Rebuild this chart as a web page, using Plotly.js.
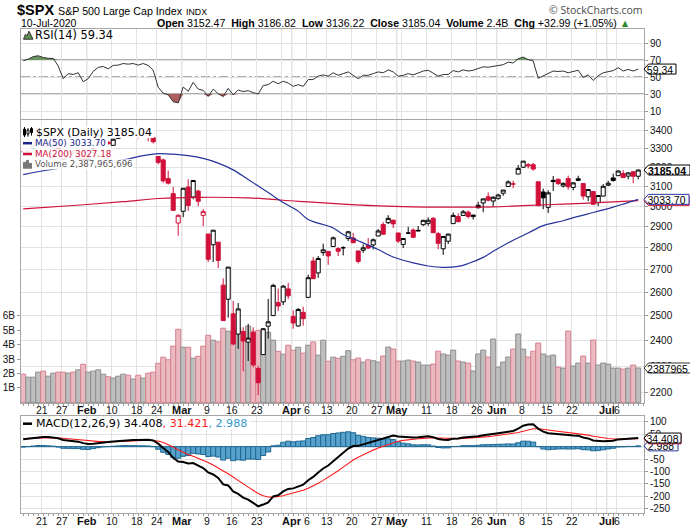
<!DOCTYPE html>
<html><head><meta charset="utf-8">
<script src="https://cdn.plot.ly/plotly-3.0.1.min.js"></script>
<style>html,body{margin:0;padding:0;background:#fff}#chart{width:690px;height:529px}</style>
</head><body><div id="chart"></div>
<script>
// ---------------- DATA ----------------
const dates = ["2020-01-14","2020-01-15","2020-01-16","2020-01-17","2020-01-21","2020-01-22","2020-01-23","2020-01-24","2020-01-27","2020-01-28","2020-01-29","2020-01-30","2020-01-31",
"2020-02-03","2020-02-04","2020-02-05","2020-02-06","2020-02-07","2020-02-10","2020-02-11","2020-02-12","2020-02-13","2020-02-14","2020-02-18","2020-02-19","2020-02-20","2020-02-21","2020-02-24","2020-02-25","2020-02-26","2020-02-27","2020-02-28",
"2020-03-02","2020-03-03","2020-03-04","2020-03-05","2020-03-06","2020-03-09","2020-03-10","2020-03-11","2020-03-12","2020-03-13","2020-03-16","2020-03-17","2020-03-18","2020-03-19","2020-03-20","2020-03-23","2020-03-24","2020-03-25","2020-03-26","2020-03-27","2020-03-30","2020-03-31",
"2020-04-01","2020-04-02","2020-04-03","2020-04-06","2020-04-07","2020-04-08","2020-04-09","2020-04-13","2020-04-14","2020-04-15","2020-04-16","2020-04-17","2020-04-20","2020-04-21","2020-04-22","2020-04-23","2020-04-24","2020-04-27","2020-04-28","2020-04-29","2020-04-30",
"2020-05-01","2020-05-04","2020-05-05","2020-05-06","2020-05-07","2020-05-08","2020-05-11","2020-05-12","2020-05-13","2020-05-14","2020-05-15","2020-05-18","2020-05-19","2020-05-20","2020-05-21","2020-05-22","2020-05-26","2020-05-27","2020-05-28","2020-05-29",
"2020-06-01","2020-06-02","2020-06-03","2020-06-04","2020-06-05","2020-06-08","2020-06-09","2020-06-10","2020-06-11","2020-06-12","2020-06-15","2020-06-16","2020-06-17","2020-06-18","2020-06-19","2020-06-22","2020-06-23","2020-06-24","2020-06-25","2020-06-26","2020-06-29","2020-06-30",
"2020-07-01","2020-07-02","2020-07-06","2020-07-07","2020-07-08","2020-07-09","2020-07-10"];

const openP = [3285.35,3282.27,3302.97,3323.66,3321.03,3330.02,3315.77,3333.10,3247.16,3255.35,3289.46,3256.45,3282.33,
3235.66,3280.61,3324.91,3344.92,3335.54,3318.28,3365.87,3370.50,3365.90,3378.08,3369.04,3380.39,3380.45,3360.50,3257.61,3238.94,3139.90,3062.54,2916.90,
2974.28,3096.46,3045.75,3075.70,2954.20,2863.89,2813.48,2825.60,2630.86,2569.99,2508.59,2425.66,2436.50,2393.48,2431.94,2290.71,2344.44,2457.77,2501.29,2555.87,2558.98,2614.69,
2498.08,2458.54,2514.92,2578.28,2738.65,2685.00,2776.99,2782.46,2805.10,2795.64,2799.34,2842.43,2845.62,2784.81,2787.89,2810.42,2812.64,2854.65,2909.96,2918.46,2930.91,
2869.09,2815.01,2868.88,2883.14,2878.26,2908.83,2915.46,2939.50,2865.86,2794.54,2829.95,2913.86,2948.59,2953.63,2969.95,2948.05,3004.08,3015.65,3046.61,3025.17,
3038.78,3064.78,3098.90,3111.56,3163.84,3199.92,3213.32,3213.42,3123.53,3071.04,2993.76,3131.00,3136.13,3101.64,3140.29,3094.42,3138.70,3114.40,3046.60,3073.20,3018.59,3050.20,
3105.92,3143.64,3155.29,3166.44,3153.07,3176.17,3152.47];
const highP = [3294.25,3298.66,3317.11,3329.88,3329.79,3337.77,3326.88,3333.18,3258.85,3285.78,3293.47,3285.91,3282.33,
3268.44,3306.92,3337.58,3347.96,3341.42,3352.26,3375.63,3381.47,3385.09,3380.69,3375.01,3393.52,3389.15,3360.76,3259.81,3246.99,3182.51,3097.07,2959.72,
3090.96,3136.72,3130.97,3083.04,2985.93,2863.89,2882.59,2825.60,2660.95,2711.33,2562.98,2553.93,2453.57,2466.97,2453.01,2300.73,2449.71,2571.42,2637.01,2615.91,2631.80,2641.39,
2522.75,2533.22,2538.18,2676.85,2756.89,2760.75,2818.57,2782.46,2851.85,2801.88,2806.51,2879.22,2868.98,2785.54,2815.10,2844.90,2842.71,2887.72,2921.15,2954.86,2930.91,
2869.09,2844.24,2898.23,2891.11,2901.92,2932.16,2944.25,2945.82,2874.14,2852.80,2865.01,2968.09,2964.21,2980.29,2978.50,2956.76,3021.72,3036.25,3068.67,3049.17,
3062.18,3081.07,3130.94,3128.91,3211.72,3233.13,3222.71,3223.27,3123.53,3088.42,3079.76,3153.45,3141.16,3120.00,3155.53,3120.92,3154.90,3115.01,3086.25,3073.73,3053.89,3111.51,
3128.44,3165.81,3182.59,3184.15,3171.80,3179.78,3186.82];
const lowP = [3277.19,3280.69,3302.82,3318.86,3316.61,3320.04,3301.87,3281.53,3234.50,3253.22,3271.89,3242.80,3214.68,
3235.66,3280.61,3313.75,3334.39,3322.12,3317.77,3352.72,3369.72,3360.52,3366.15,3355.61,3378.83,3341.02,3328.45,3214.65,3118.77,3108.99,2977.39,2855.84,
2945.19,2976.63,3034.38,2999.83,2901.54,2734.43,2734.00,2707.22,2478.86,2492.37,2380.94,2367.04,2280.52,2319.78,2295.56,2191.86,2344.44,2407.53,2500.72,2520.02,2545.28,2571.15,
2447.49,2455.79,2459.96,2574.57,2657.67,2663.30,2762.36,2721.17,2805.10,2761.54,2764.32,2830.88,2820.43,2727.10,2775.95,2794.26,2791.76,2852.89,2860.71,2912.16,2892.47,
2821.61,2797.85,2863.55,2847.65,2876.48,2902.88,2903.44,2869.59,2793.15,2766.64,2816.78,2913.86,2922.35,2953.63,2938.57,2933.59,2988.17,2969.75,3023.40,2998.61,
3031.54,3051.64,3098.90,3090.41,3163.84,3196.00,3193.11,3181.49,2999.49,2984.47,2965.66,3076.06,3108.03,3093.51,3083.11,3079.39,3127.12,3032.13,3024.01,3004.63,2999.74,3047.83,
3101.17,3124.52,3155.29,3142.93,3136.53,3115.70,3136.22];
const closeP = [3283.15,3289.29,3316.81,3329.62,3320.79,3321.75,3325.54,3295.47,3243.63,3276.24,3273.40,3283.66,3225.52,
3248.92,3297.59,3334.69,3345.78,3327.71,3352.09,3357.75,3379.45,3373.94,3380.16,3370.29,3386.15,3373.23,3337.75,3225.89,3128.21,3116.39,2978.76,2954.22,
3090.23,3003.37,3130.12,3023.94,2972.37,2746.56,2882.23,2741.38,2480.64,2711.02,2386.13,2529.19,2398.10,2409.39,2304.92,2237.40,2447.33,2475.56,2630.07,2541.47,2626.65,2584.59,
2470.50,2526.90,2488.65,2663.68,2659.41,2749.98,2789.82,2761.63,2846.06,2783.36,2799.55,2874.56,2823.16,2736.56,2799.31,2797.80,2836.74,2878.48,2863.39,2939.51,2912.43,
2830.71,2842.74,2868.44,2848.42,2881.19,2929.80,2930.32,2870.12,2820.00,2852.50,2863.70,2953.91,2922.94,2971.61,2948.51,2955.45,2991.77,3036.13,3029.73,3044.31,
3055.73,3080.82,3122.87,3112.35,3193.93,3232.39,3207.18,3190.14,3002.10,3041.31,3066.59,3124.74,3113.49,3115.34,3097.74,3117.86,3131.29,3050.33,3083.76,3009.05,3053.24,3100.29,
3115.86,3130.01,3179.72,3145.32,3169.94,3152.05,3185.04];
const prevClose = 3288.13; // close of the session before the first bar

// volume in billions of shares
const volumeB = [1.96,1.75,1.75,2.1,2.17,1.82,2.03,2.1,2.1,2.03,
2.1,2.26,2.65,2.1,2.17,2.26,1.96,1.78,1.69,1.82,
1.96,1.89,1.62,1.89,1.69,2.03,2.1,2.72,3.14,2.96,
3.9,5.08,3.83,3.83,3.07,3.2,3.9,4.66,4.32,4.2,
5.15,4.94,4.87,5.15,4.5,5.3,4.94,5.0,4.87,4.87,
4.32,3.55,3.35,3.97,3.62,3.83,3.42,3.97,4.2,3.28,
4.32,2.86,3.14,3.07,3.2,3.59,2.96,3.08,2.8,2.96,
2.89,2.8,3.22,3.84,3.7,2.87,2.87,2.94,2.87,2.8,
2.59,2.59,2.66,3.56,3.36,3.29,3.63,2.87,2.8,2.73,
2.18,3.36,3.63,3.15,4.4,2.45,2.8,3.15,3.7,4.75,
3.7,3.15,3.56,4.12,3.36,3.22,3.29,2.45,2.38,4.95,
2.52,2.73,3.22,2.73,4.33,2.59,2.73,2.66,2.38,2.38,
2.31,2.38,2.59,2.387965696];

// moving averages (bar index, value)
const ma50Idx = [0,5,10,15,21,24,27,30,33,36,39,42,45,49,52,55,57,62,64,67,71,74,78,81,84,87,89,92,94,98,101,104,108,111,114,118,120,123];
const ma50Val = [3161,3185,3205,3222,3244,3262,3273,3270,3262,3247,3222,3186,3135,3068,3018,2975,2934,2893,2862,2832,2791,2757,2730,2716,2710,2714,2727,2755,2783,2835,2869,2904,2928,2949,2968,2995,3010,3033.70];
const ma200Idx = [0,10,20,27,35,45,55,64,70,78,86,94,100,106,112,118,123];
const ma200Val = [2986,3003,3022,3038,3044,3041,3024,3010,3002,2996,2995,2996,3002,3008,3014,3021,3027.18];

const rsi14 = [69,71,74,75,73,72,72,63,48,54,
53,55,44.5,48,56.6,61.3,62.4,59.7,63.6,64,
65.9,65.1,65.9,64,65.9,63.6,58,38,31,29,
21,19.5,38.2,33.2,43.7,35.8,34.3,27.2,35.8,30.3,
27,36.6,29,34.7,32.8,34,31.6,30,39.9,41,
45,42,45,43,39,41,39,47,47,51,
52.5,51,55,52,54,56,52,48,52,52,
54,56,55,58.4,56,51,52,54,52.5,54.5,
57,58,54,51,53,53,57.5,56,58.4,57,
58,60,62,61.5,62.5,63.5,64.5,67.5,66.5,71.5,
73.4,70.5,69,48.5,51.5,53.5,57,56.5,57,55,
56.5,58,49.5,52.5,46,51.5,55,56,57.5,61,
57,59,57,59.34];

const macdLine = [30,32,35,38,39,38.5,37.5,33.5,27,25,
22,20,14,11,12,15,18,19,21,23,
25,26,27,27,28,28,25,12,-6,-22,
-45,-60,-62,-68,-66,-76,-86,-104,-112,-126,
-152,-156,-180,-190,-205,-213,-226,-240,-233,-224,
-200,-196,-180,-170,-168,-160,-153,-135,-122,-104,
-88,-76,-58,-42,-25,-8,2,3,9,14,
21,28,32,41,45,41,39,39,37,38,
41,42,38,31,28,27,32,33,37,38,
39,42,46,48,51,54,57,61,63,72,
84,89,90,72,60,54,53,52,50,47,
45,44,37,33,25,22,22,23,24,29,
30,32,32,34.408];
const signalLine = [32,32,32.5,33.5,34.5,35.3,35.7,35.3,33.6,31.9,
29.9,27.9,25.1,22.3,20.2,19.2,19,19,19.4,20.1,
21.1,22.1,23.1,23.8,24.7,25.3,25.3,22.6,16.9,9.1,
-1.7,-13.4,-23.1,-32.1,-38.9,-46.3,-54.2,-64.2,-73.8,-84.2,
-97.8,-109.4,-123.5,-136.8,-150.4,-163,-175.6,-188.5,-197.4,-202.7,
-203.2,-201.7,-197.4,-191.9,-187.1,-181.7,-175.9,-167.8,-158.6,-147.7,
-135.8,-123.8,-110.6,-96.9,-82.5,-67.6,-53.7,-42.4,-32.1,-22.9,
-14.1,-5.7,1.8,9.6,16.7,21.6,25.1,27.9,29.7,31.4,
33.3,35,35.6,34.7,33.4,32.1,31.9,32.1,33.1,34.1,
35.1,36.5,38.4,40.3,42.5,44.8,47.2,50,52.6,56.5,
62,67.4,71.9,72,69.6,66.5,63.8,61.5,59.2,56.8,
54.5,52.4,49.3,46.1,41.9,38,34.8,32.4,30.7,30.4,
30.6,31.1,31.3,31.421];
const macdHist = [-2,0,2.5,4.5,4.5,3.2,1.8,-1.8,-6.6,-6.9,
-7.9,-7.9,-11.1,-11.3,-8.2,-4.2,-1,0,1.6,2.9,
3.9,3.9,3.9,3.2,3.3,2.7,-0.3,-10.6,-22.9,-31.1,
-43.3,-46.6,-38.9,-35.9,-27.1,-29.7,-31.8,-39.8,-38.2,-41.8,
-54.2,-46.6,-56.5,-53.2,-54.6,-50,-50.4,-51.5,-35.6,-21.3,
3.2,5.7,17.4,21.9,19.1,21.7,22.9,32.8,36.6,43.7,
47.8,47.8,52.6,54.9,57.5,59.6,55.7,45.4,41.1,36.9,
35.1,33.7,30.2,31.4,28.3,19.4,13.9,11.1,7.3,6.6,
7.7,7,2.4,-3.7,-5.4,-5.1,0.1,0.9,3.9,3.9,
3.9,5.5,7.6,7.7,8.5,9.2,9.8,11,10.4,15.5,
22,21.6,18.1,0,-9.6,-12.5,-10.8,-9.5,-9.2,-9.8,
-9.5,-8.4,-12.3,-13.1,-16.9,-16,-12.8,-9.4,-6.7,-1.4,
-0.6,0.9,0.7,2.988];

// x-axis ticks (bar index of first session of each week) and their labels
const tickIdx  = [4,8,13,18,23,27,32,37,42,47,52,54,57,61,66,71,75,76,81,86,91,95,100,105,110,115,117,119];
const tickText = ['21','27','Feb','10','18','24','Mar','9','16','23','','Apr','6','13','20','27','May','','11','18','26','Jun','8','15','22','','Jul','6'];
const monthIdx = [13,32,54,75,95,117];
const priceTicks = [2200,2300,2400,2500,2600,2700,2800,2900,3000,3100,3200,3300,3400];
const volTicks = [1,2,3,4,5,6];
const rsiTicks = [10,30,50,70,90];
const macdTicks = [-250,-200,-150,-100,-50,0,50,100];

// ---------------- LAYOUT GEOMETRY ----------------
const W=690,H=529,ML=21,MR=46,MT=29.3,MB=15.7;
const PW=W-ML-MR, PH=H-MT-MB;
const px = x => (x-ML)/PW;
const py = y => (H-MB-y)/PH;
const RSI_PX=[119.5,29.3], RSI_R=[0.35,106.5];
const MAIN_PX=[403.5,120], PRICE_R=[3.3350,3.5394], VOL_R=[-0.056e9,19.63e9];
const MACD_PX=[513.3,416.7], MACD_R=[-267,121.5];
const XR=[-0.44,124.16];
const lin=(v,r,p)=>p[0]+(v-r[0])/(r[1]-r[0])*(p[1]-p[0]);
const rsiPx=v=>lin(v,RSI_R,RSI_PX);
const pricePx=v=>lin(Math.log10(v),PRICE_R,MAIN_PX);
const volPx=v=>lin(v,VOL_R,MAIN_PX);
const macdPx=v=>lin(v,MACD_R,MACD_PX);

const RED='#d0103a', NAVY='#25339a';
const N=closeP.length, IDX=[...Array(N).keys()];
const isUp = IDX.map(i => closeP[i] >= (i ? closeP[i-1] : prevClose));
const upIdx = IDX.filter(i=>isUp[i]), dnIdx = IDX.filter(i=>!isUp[i]);

function candle(ids,col){
  return {type:'candlestick', x:ids, open:ids.map(i=>openP[i]), high:ids.map(i=>highP[i]),
    low:ids.map(i=>lowP[i]), close:ids.map(i=>closeP[i]), xaxis:'x2', yaxis:'y3',
    increasing:{line:{color:col,width:1},fillcolor:'#ffffff'},
    decreasing:{line:{color:col,width:1},fillcolor:col},
    whiskerwidth:0, hoverinfo:'skip', showlegend:false};
}

const traces = [
  {type:'bar', x:IDX, y:volumeB.map(v=>v*1e9), width:1, xaxis:'x2', yaxis:'y2',
   marker:{color:IDX.map(i=>isUp[i]?'#bebebe':'#ebb9c0'), line:{color:IDX.map(i=>isUp[i]?'#8e8e8e':'#d5808e'),width:1}},
   hoverinfo:'skip', showlegend:false},
  {type:'scatter', mode:'lines', x:ma200Idx, y:ma200Val, xaxis:'x2', yaxis:'y3', line:{color:RED,width:1.2,shape:'spline'}, hoverinfo:'skip', showlegend:false},
  {type:'scatter', mode:'lines', x:ma50Idx, y:ma50Val, xaxis:'x2', yaxis:'y3', line:{color:NAVY,width:1.2,shape:'spline'}, hoverinfo:'skip', showlegend:false},
  candle(upIdx,'#000000'),
  candle(dnIdx,RED),
  {type:'scatter', mode:'lines', x:IDX, y:IDX.map(()=>70), xaxis:'x3', yaxis:'y4', line:{width:0}, hoverinfo:'skip', showlegend:false},
  {type:'scatter', mode:'lines', x:IDX, y:rsi14.map(v=>Math.max(v,70)), xaxis:'x3', yaxis:'y4', line:{width:0}, fill:'tonexty', fillcolor:'#6b955f', hoverinfo:'skip', showlegend:false},
  {type:'scatter', mode:'lines', x:IDX, y:IDX.map(()=>30), xaxis:'x3', yaxis:'y4', line:{width:0}, hoverinfo:'skip', showlegend:false},
  {type:'scatter', mode:'lines', x:IDX, y:rsi14.map(v=>Math.min(v,30)), xaxis:'x3', yaxis:'y4', line:{width:0}, fill:'tonexty', fillcolor:'#ad5f5f', hoverinfo:'skip', showlegend:false},
  {type:'scatter', mode:'lines', x:IDX, y:rsi14, xaxis:'x3', yaxis:'y4', line:{color:'#333333',width:1}, hoverinfo:'skip', showlegend:false},
  {type:'bar', x:IDX, y:macdHist, width:1, xaxis:'x', yaxis:'y', marker:{color:'#56a2cc', line:{color:'#1f6790',width:1}}, hoverinfo:'skip', showlegend:false},
  {type:'scatter', mode:'lines', x:IDX, y:signalLine, xaxis:'x', yaxis:'y', line:{color:'#ff1a1a',width:1.1}, hoverinfo:'skip', showlegend:false},
  {type:'scatter', mode:'lines', x:IDX, y:macdLine, xaxis:'x', yaxis:'y', line:{color:'#000000',width:2}, hoverinfo:'skip', showlegend:false}
];

const TF={family:'Liberation Sans, Arial, sans-serif', size:10, color:'#111'};
const BORDER='#a6a6a6', GRID='#e2e2e2';
const tickPos = tickIdx.map(i=>i-0.3);
const minor={tickmode:'linear', tick0:0, dtick:1, ticks:'outside', ticklen:2, tickcolor:'#9a9a9a', showgrid:false};
function xax(extra){
  return Object.assign({range:XR, tickmode:'array', tickvals:tickPos, ticktext:tickText, ticks:'', showgrid:true, gridcolor:GRID,
    showticklabels:false, zeroline:false, showline:true, mirror:true, linecolor:BORDER, fixedrange:true, rangeslider:{visible:false}}, extra);
}
const dom = p => [py(p[0]), py(p[1])];

const layout = {
  width:W, height:H, margin:{l:ML,r:MR,t:MT,b:MB,pad:0}, paper_bgcolor:'#fff', plot_bgcolor:'#fff',
  showlegend:false, boxgap:0.1, boxgroupgap:0.1, bargap:0,
  xaxis: xax({anchor:'y', minor:minor}),
  xaxis2: xax({anchor:'y2', matches:'x', minor:minor}),
  xaxis3: xax({anchor:'y4', matches:'x'}),
  yaxis: {domain:dom(MACD_PX), range:MACD_R, side:'right', tickmode:'array', tickvals:macdTicks, ticktext:macdTicks.map(String),
    showgrid:true, gridcolor:GRID, zeroline:false, showline:true, mirror:true, linecolor:BORDER, ticks:'outside', ticklen:3, tickcolor:'#999', tickfont:TF, fixedrange:true},
  yaxis2: {domain:dom(MAIN_PX), range:VOL_R, side:'left', anchor:'x2', tickmode:'array', tickvals:volTicks.map(v=>v*1e9), ticktext:volTicks.map(v=>v+'B'),
    showgrid:false, zeroline:false, showline:true, mirror:true, linecolor:BORDER, ticks:'outside', ticklen:3, tickcolor:'#999', tickfont:TF, fixedrange:true},
  yaxis3: {overlaying:'y2', anchor:'x2', type:'log', range:PRICE_R, side:'right', tickmode:'array', tickvals:priceTicks, ticktext:priceTicks.map(String),
    showgrid:true, gridcolor:GRID, zeroline:false, showline:false, ticks:'outside', ticklen:3, tickcolor:'#999', tickfont:TF, fixedrange:true},
  yaxis4: {domain:dom(RSI_PX), range:RSI_R, side:'right', anchor:'x3', tickmode:'array', tickvals:rsiTicks, ticktext:rsiTicks.map(String),
    showgrid:true, gridcolor:GRID, zeroline:false, showline:true, mirror:true, linecolor:BORDER, ticks:'outside', ticklen:3, tickcolor:'#999', tickfont:TF, fixedrange:true},
  shapes:[], annotations:[]
};

[RSI_PX, MAIN_PX, MACD_PX].forEach(p=>{
  monthIdx.forEach(i=>layout.shapes.push({type:'line', xref:'x', yref:'paper', x0:i-0.3, x1:i-0.3, y0:py(p[0]), y1:py(p[1]), line:{color:'#b4b4b4',width:1}, layer:'below'}));
});
[[70,'solid'],[30,'solid'],[50,'dashdot']].forEach(([v,d])=>layout.shapes.push({type:'line', xref:'paper', yref:'y4', x0:0, x1:1, y0:v, y1:v, line:{color:'#5a5a5a',width:1,dash:d}, layer:'below'}));
layout.shapes.push({type:'line', xref:'paper', yref:'y', x0:0, x1:1, y0:0, y1:0, line:{color:'#246f96',width:1}, layer:'below'});

function rectPx(x0,y0,x1,y1,fill,line,lw){layout.shapes.push({type:'rect', xref:'paper', yref:'paper', x0:px(x0), x1:px(x1), y0:py(y0), y1:py(y1), fillcolor:fill, line:{color:line||fill,width:lw===undefined?1:lw}, layer:'above'});}
function linePx(x0,y0,x1,y1,col,w){layout.shapes.push({type:'line', xref:'paper', yref:'paper', x0:px(x0), x1:px(x1), y0:py(y0), y1:py(y1), line:{color:col,width:w}, layer:'above'});}

// in-panel legend rows (y centre in px) and white backings
const LY=[132.4,143.5,154.3,164.6];
const WB='rgba(255,255,255,0.94)';
rectPx(21.5,126.8,154,138.4,WB,null,0);
rectPx(21.5,138.4,108,148.9,WB,null,0);
rectPx(21.5,148.9,114,159.5,WB,null,0);
rectPx(21.5,159.5,133,169.8,WB,null,0);
rectPx(21.5,30,115,40.5,WB,null,0);
rectPx(21.5,418.3,250,429.7,WB,null,0);

function tag(yPix, w, text, border, opts={}){
  const x0=644, h=5;
  const P=(x,y)=>px(x)+','+py(y);
  layout.shapes.push({type:'path', xref:'paper', yref:'paper',
    path:`M${P(x0,yPix)} L${P(x0+4.5,yPix-h)} L${P(x0+w,yPix-h)} L${P(x0+w,yPix+h)} L${P(x0+4.5,yPix+h)} Z`,
    fillcolor:'#ffffff', line:{color:border,width:1}, layer:'above',
    label: text ? {text:text, textposition:'middle center', font:{family:'Liberation Sans, Arial, sans-serif', size:opts.size||10.5, color:'#000', weight:opts.bold?'bold':'normal'}, padding:0} : undefined});
}
tag(rsiPx(rsi14[N-1]), 32, '59.34', '#000');
tag(pricePx(3027.18), 45, '', RED);
tag(pricePx(ma50Val[ma50Val.length-1]), 45, '3033.70', NAVY);
tag(pricePx(closeP[N-1]), 46, '3185.04', '#000', {bold:true, size:10.5});
tag(volPx(volumeB[N-1]*1e9), 47, '2387965', '#333');
tag(macdPx(macdHist[N-1]), 34, '2.988', NAVY);
tag(macdPx(signalLine[N-1]), 37, '', RED);
tag(macdPx(macdLine[N-1]), 37, '34.408', '#000');

const SANS='Liberation Sans, Arial, sans-serif', DJ='DejaVu Sans, Verdana, sans-serif';
function ann(x,y,text,font,extra){layout.annotations.push(Object.assign({xref:'paper',yref:'paper',x:px(x),y:py(y),text:text,showarrow:false,xanchor:'left',yanchor:'middle',font:font,borderpad:0},extra||{}));}

// x-axis labels (under the price panel and under the MACD panel)
const months=new Set(['Feb','Mar','Apr','May','Jun','Jul']);
[410.6, 521.6].forEach(yl=>{
  tickIdx.forEach((ti,k)=>{
    const t=tickText[k]; if(!t) return;
    const isM=months.has(t);
    layout.annotations.push({xref:'x', yref:'paper', x:ti-0.3, y:py(yl), text:isM?'<b>'+t+'</b>':t, showarrow:false,
      xanchor:'center', yanchor:'middle', borderpad:0, font:{family:SANS, size:isM?11:10.5, color:'#111'}});
  });
});

ann(15.5,10.5,'<b>$SPX</b>',{family:SANS,size:14.5,color:'#000'});
ann(56.5,11,'S&P 500 Large Cap Index',{family:SANS,size:10.7,color:'#000'});
ann(184.5,12,'INDX',{family:SANS,size:8.8,color:'#000'});
ann(20,23,'10-Jul-2020',{family:SANS,size:10.5,color:'#000'});
ann(155.5,23.3,'<b>Open</b> 3152.47  <b>High</b> 3186.82  <b>Low</b> 3136.22  <b>Close</b> 3185.04  <b>Volume</b> 2.4B  <b>Chg</b> +32.99 (+1.05%) <span style="color:#2a8a2a">▲</span>',{family:SANS,size:10.6,color:'#000'});
ann(643.5,10,'© StockCharts.com',{family:'Open Sans, Lato, sans-serif',size:10.5,color:'#4a4a4a'},{xanchor:'right'});

ann(33.5,35.2,'RSI(14) 59.34',{family:DJ,size:11.4,color:'#000'});
ann(35,LY[0],'$SPX (Daily) 3185.04',{family:DJ,size:10.9,color:'#000'});
ann(33.5,LY[1],'MA(50) 3033.70',{family:DJ,size:8.8,color:'#1a258a'});
ann(33.5,LY[2],'MA(200) 3027.18',{family:DJ,size:8.8,color:'#d0103a'});
ann(33.5,LY[3],'Volume 2,387,965,696',{family:DJ,size:8.6,color:'#555'});
ann(35,424,'MACD(12,26,9) 34.408<span style="color:#ff1a1a">, 31.421</span><span style="color:#3399cc">, 2.988</span>',{family:DJ,size:11.1,color:'#000'});

layout.shapes.push({type:'path', xref:'paper', yref:'paper',
  path:'M'+[[23.5,39.5],[25.5,34.5],[27,36],[29,31.5],[31,35.5],[33,39.5]].map(p=>px(p[0])+','+py(p[1])).join(' L')+' Z',
  fillcolor:'#5f8f55', line:{color:'#333',width:1}, layer:'above'});
linePx(24.5,LY[0]-5,24.5,LY[0]+5,'#000',1); rectPx(23.5,LY[0]-3,25.5,LY[0]+3,'#000');
linePx(28,LY[0]-4,28,LY[0]+4.5,'#000',1); rectPx(27,LY[0]-2,29,LY[0]+2,'#fff','#000');
linePx(31.5,LY[0]-5,31.5,LY[0]+3.5,'#000',1); rectPx(30.5,LY[0]-3.5,32.5,LY[0]+0.5,'#000');
linePx(23,LY[1],32,LY[1],'#1a258a',2.5);
linePx(23,LY[2],32,LY[2],'#d0103a',2.5);
rectPx(23.5,LY[3]-2,25.5,LY[3]+4,'#777'); rectPx(26.5,LY[3]-4,28.5,LY[3]+4,'#777'); rectPx(29.5,LY[3]-1,31.5,LY[3]+4,'#777');
linePx(23,424,32,424,'#000',2.5);

Plotly.newPlot('chart', traces, layout, {staticPlot:true, displayModeBar:false});
</script></body></html>
